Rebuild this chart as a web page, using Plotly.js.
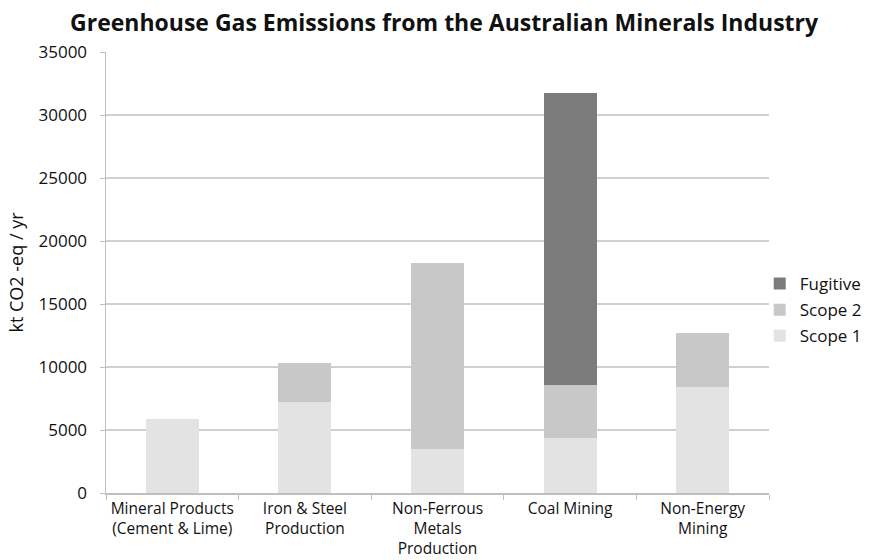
<!DOCTYPE html>
<html>
<head>
<meta charset="utf-8">
<script src="https://cdn.plot.ly/plotly-3.0.1.min.js"></script>
<style>
  html, body { margin: 0; padding: 0; background: #ffffff; }
  #chart { width: 869px; height: 560px; }
</style>
</head>
<body>
<div id="chart"></div>
<script>
// Sectors of the Australian minerals industry
const categories = [
  "Mineral Products<br>(Cement & Lime)",
  "Iron & Steel<br>Production",
  "Non-Ferrous<br>Metals<br>Production",
  "Coal Mining",
  "Non-Energy<br>Mining"
];

// Emissions by scope, kt CO2-eq / yr
const scope1 = [5850, 7200, 3500, 4340, 8440];
const scope2 = [0, 3140, 14780, 4260, 4240];
const fugitive = [0, 0, 0, 23170, 0];

const yTicks = [0, 5000, 10000, 15000, 20000, 25000, 30000, 35000];

const FONT = "'Open Sans', 'Noto Sans', sans-serif";
const INK = "#111111";

// Stacked bottom-to-top; legend lists the top segment first
const traces = [
  { name: "Scope 1", y: scope1, color: "#e3e3e3", rank: 3 },
  { name: "Scope 2", y: scope2, color: "#c8c8c8", rank: 2 },
  { name: "Fugitive", y: fugitive, color: "#7b7b7b", rank: 1 }
].map(s => ({
  type: "bar",
  name: s.name,
  legendgroup: s.name,
  legendrank: s.rank,
  x: categories,
  y: s.y,
  marker: { color: s.color, line: { width: 0 } },
  hoverinfo: "name+y"
}));

const layout = {
  width: 869,
  height: 560,
  barmode: "stack",
  bargap: 0.6,
  paper_bgcolor: "#ffffff",
  plot_bgcolor: "#ffffff",
  margin: { l: 106, r: 100, t: 52, b: 67, autoexpand: false },
  font: { family: FONT, size: 17, color: INK },
  title: {
    text: "<b>Greenhouse Gas Emissions from the Australian Minerals Industry</b>",
    font: { family: FONT, size: 23, color: INK },
    x: 0.511,
    xanchor: "center",
    y: 0.959,
    yanchor: "middle"
  },
  xaxis: {
    type: "category",
    tickson: "boundaries",
    ticks: "outside",
    ticklen: 5,
    tickcolor: "#bfbfbf",
    tickangle: 0,
    ticklabelstandoff: 1,
    showline: true,
    linecolor: "#bfbfbf",
    linewidth: 1.5,
    showgrid: false,
    tickfont: { family: FONT, size: 15.5, color: INK },
    fixedrange: true
  },
  yaxis: {
    range: [0, 35000],
    tickvals: yTicks,
    ticktext: yTicks.map(String),
    ticks: "outside",
    ticklen: 5,
    tickcolor: "#bfbfbf",
    ticklabelstandoff: 9,
    showline: true,
    linecolor: "#bfbfbf",
    linewidth: 1.5,
    showgrid: true,
    gridcolor: "#d0d0d0",
    gridwidth: 1.5,
    zeroline: false,
    tickfont: { family: FONT, size: 17, color: INK },
    title: {
      text: "kt CO2 -eq / yr",
      font: { family: FONT, size: 18, color: INK },
      standoff: 10
    },
    fixedrange: true
  },
  legend: {
    x: 0.986,
    xanchor: "left",
    y: 0.415,
    yanchor: "middle",
    traceorder: "grouped",
    tracegroupgap: 1,
    font: { family: FONT, size: 17, color: INK },
    itemwidth: 30,
    bgcolor: "rgba(0,0,0,0)"
  },
  showlegend: true
};

Plotly.newPlot("chart", traces, layout, { displayModeBar: false, staticPlot: true });
</script>
</body>
</html>
